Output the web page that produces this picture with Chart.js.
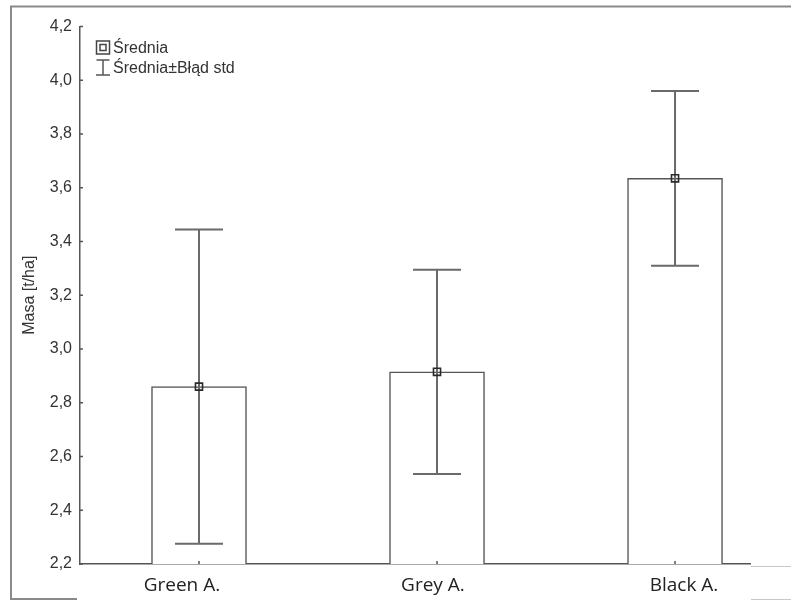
<!DOCTYPE html>
<html>
<head>
<meta charset="utf-8">
<script src="https://cdn.jsdelivr.net/npm/chart.js@4/dist/chart.umd.min.js"></script>
<style>
  html, body { margin: 0; padding: 0; background: #fff; overflow: hidden; }
  #wrap { width: 791px; height: 600px; }
</style>
</head>
<body>
<div id="wrap"><canvas id="c" width="791" height="600"></canvas></div>
<script>
// Group names, group means and their standard errors (t/ha)
const categories = ['Green A.', 'Grey A.', 'Black A.'];
const means = [2.86, 2.915, 3.635];
const stdErrors = [0.585, 0.38, 0.325];

// Value axis
const yMin = 2.2;
const yMax = 4.2;
const yStep = 0.2;
const yTitle = 'Masa [t/ha]';

// Legend entries
const legendLabels = ['Średnia', 'Średnia±Błąd std'];

const points = means.map((m, i) => ({ x: i, y: m }));
const categoryTicks = categories.map((_, i) => ({ value: i }));

const AXIS = '#555';
const TEXT = '#333';

// Thin grey frame round the figure
const framePlugin = {
  id: 'frame',
  beforeDraw(chart) {
    const ctx = chart.ctx;
    ctx.save();
    ctx.strokeStyle = '#8a8a8a';
    ctx.lineWidth = 2;
    ctx.beginPath();
    ctx.moveTo(11, 600); ctx.lineTo(11, 6.5); ctx.lineTo(791, 6.5);
    ctx.moveTo(10, 599); ctx.lineTo(77, 599);
    ctx.stroke();
    ctx.strokeStyle = '#c8c8c8';
    ctx.lineWidth = 1;
    ctx.beginPath();
    ctx.moveTo(751, 566.5); ctx.lineTo(791, 566.5);
    ctx.moveTo(751, 599.5); ctx.lineTo(791, 599.5);
    ctx.stroke();
    ctx.restore();
  }
};

// Mean ± standard error whiskers, drawn right after the bars
const errorBarPlugin = {
  id: 'errorBars',
  afterDatasetDraw(chart, args) {
    if (args.index !== 0) return;
    const { ctx, scales: { x, y } } = chart;
    ctx.save();
    ctx.strokeStyle = '#6a6a6a';
    ctx.lineWidth = 2;
    means.forEach((m, i) => {
      const px = x.getPixelForValue(i);
      const top = y.getPixelForValue(m + stdErrors[i]);
      const bot = y.getPixelForValue(m - stdErrors[i]);
      const cap = 24;
      ctx.beginPath();
      ctx.moveTo(px, top); ctx.lineTo(px, bot);
      ctx.moveTo(px - cap, top); ctx.lineTo(px + cap, top);
      ctx.moveTo(px - cap, bot); ctx.lineTo(px + cap, bot);
      ctx.stroke();
    });
    ctx.restore();
  }
};

// Short inward tick marks on both axes, plus the legend box
const decorPlugin = {
  id: 'decor',
  afterDraw(chart) {
    const { ctx, chartArea, scales: { x, y } } = chart;
    ctx.save();
    ctx.strokeStyle = AXIS;
    ctx.lineWidth = 1.5;
    ctx.beginPath();
    y.ticks.forEach(t => {
      const py = y.getPixelForValue(t.value);
      ctx.moveTo(chartArea.left, py); ctx.lineTo(chartArea.left + 3, py);
    });
    x.ticks.forEach(t => {
      const px = x.getPixelForValue(t.value);
      ctx.moveTo(px, chartArea.bottom); ctx.lineTo(px, chartArea.bottom - 3);
    });
    ctx.stroke();

    // legend
    const lx = chartArea.left + 23;
    ctx.strokeStyle = '#444';
    ctx.lineWidth = 1.5;
    ctx.strokeRect(lx - 6.5, 41, 13, 13);
    ctx.strokeRect(lx - 3, 44.5, 6, 6);
    ctx.strokeStyle = '#555';
    ctx.beginPath();
    ctx.moveTo(lx, 60); ctx.lineTo(lx, 75);
    ctx.moveTo(lx - 6.5, 60); ctx.lineTo(lx + 6.5, 60);
    ctx.moveTo(lx - 7, 75); ctx.lineTo(lx + 7, 75);
    ctx.stroke();
    ctx.fillStyle = TEXT;
    ctx.font = '16px "Liberation Sans", Arial, sans-serif';
    ctx.textBaseline = 'alphabetic';
    ctx.textAlign = 'left';
    ctx.fillText(legendLabels[0], lx + 10, 53);
    ctx.fillText(legendLabels[1], lx + 10, 72.5);
    ctx.restore();
  }
};

new Chart(document.getElementById('c'), {
  type: 'bar',
  data: {
    datasets: [
      {
        type: 'bar',
        data: points,
        base: yMin,
        backgroundColor: '#ffffff',
        borderColor: AXIS,
        borderWidth: 1.5,
        barThickness: 95,
        xAxisID: 'x',
        order: 2
      },
      {
        type: 'scatter',
        data: points,
        pointStyle: 'rect',
        pointRadius: 5,
        pointBorderWidth: 1.6,
        pointBorderColor: '#2a2a2a',
        pointBackgroundColor: 'rgba(255,255,255,0)',
        xAxisID: 'x',
        order: 1
      }
    ]
  },
  options: {
    responsive: false,
    animation: false,
    events: [],
    layout: { padding: { top: 26.5, right: 41, bottom: 0, left: 0 } },
    plugins: { legend: { display: false }, tooltip: { enabled: false } },
    scales: {
      x: {
        type: 'linear',
        position: 'bottom',
        offset: false,
        min: -0.5,
        max: 2.315,
        afterBuildTicks: s => { s.ticks = categoryTicks.map(t => ({ ...t })); },
        afterFit: s => { s.height = 0; },
        ticks: { display: false },
        grid: { display: false, drawTicks: false, offset: false },
        border: { display: true, color: AXIS, width: 1.5 }
      },
      xLabels: {
        type: 'linear',
        position: 'bottom',
        offset: false,
        min: -0.406,
        max: 2.263,
        afterBuildTicks: s => { s.ticks = categoryTicks.map(t => ({ ...t })); },
        afterFit: s => { s.height = 36; },
        ticks: {
          padding: 10,
          color: '#222',
          font: { family: '"Open Sans", sans-serif', size: 19 },
          maxRotation: 0,
          callback: v => categories[v]
        },
        grid: { display: false, drawTicks: false, offset: false },
        border: { display: false }
      },
      y: {
        type: 'linear',
        min: yMin,
        max: yMax,
        afterFit: s => { s.width = 80; },
        ticks: {
          stepSize: yStep,
          padding: 8,
          color: TEXT,
          font: { family: '"Liberation Sans", Arial, sans-serif', size: 16 },
          callback: v => v.toFixed(1).replace('.', ',')
        },
        grid: { display: false, drawTicks: false },
        border: { display: true, color: AXIS, width: 1.5 },
        title: {
          display: true,
          text: yTitle,
          color: TEXT,
          font: { family: '"Liberation Sans", Arial, sans-serif', size: 16 },
          padding: { top: 20, bottom: 0 }
        }
      }
    }
  },
  plugins: [framePlugin, errorBarPlugin, decorPlugin]
});
</script>
</body>
</html>
